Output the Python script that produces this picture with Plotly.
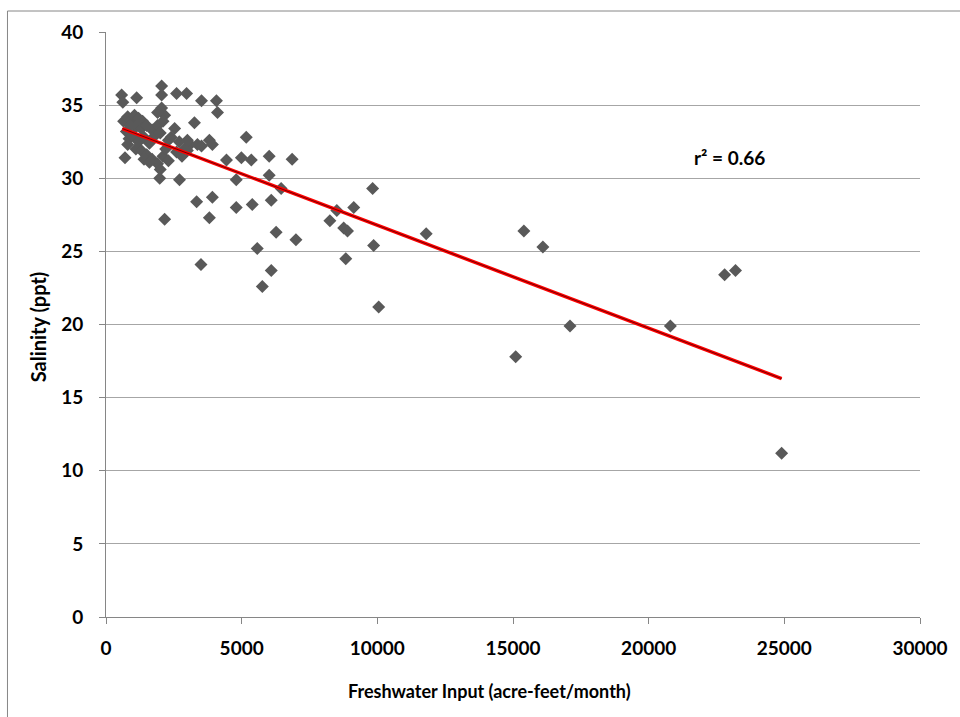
import plotly.graph_objects as go

# Freshwater input (acre-feet/month) and salinity (ppt)
fresh_x = [575, 1130, 620, 2050, 2050, 2600, 2970, 2050, 2160, 1900,
           650, 800, 950, 1050, 1200, 1350, 900, 1100, 1300, 1500, 1700, 1900,
           750, 850, 1000, 1200, 1400, 1600, 1800, 2000, 800, 1100, 1300, 1500,
           1700, 1900, 2100, 2300, 2000, 1400, 1600, 2200, 2400, 2530, 2700,
           2900, 3100, 2600, 2800, 3000, 2100, 2300, 700, 1980, 2710, 2160,
           3260, 3520, 4070, 4110, 5170, 3810, 3920, 3370, 3520, 3000, 4440,
           4990, 5355, 6015, 6860, 4800, 6015, 6455, 3340, 3920, 4800, 5390,
           6090, 3810, 6270, 7000, 5575, 6090, 5760, 3500,
           8250, 8507, 8760, 8900, 9130, 9826, 9863, 8837, 11800, 10050,
           15100, 15400, 16100, 17100, 20800, 22800, 23200, 24900]
salinity_y = [35.7, 35.5, 35.2, 36.3, 35.7, 35.8, 35.8, 34.8, 34.3, 34.5,
              33.9, 34.2, 34.0, 34.3, 34.1, 33.9, 33.6, 33.5, 33.4, 33.6, 33.3, 33.6,
              33.2, 32.7, 32.9, 32.5, 32.8, 32.4, 32.9, 33.1, 32.3, 32.0, 31.9, 31.6,
              31.3, 31.0, 31.5, 31.2, 30.6, 31.3, 31.1, 32.0, 32.8, 33.4, 32.5,
              32.0, 32.3, 31.8, 31.5, 31.9, 33.9, 32.6, 31.4, 30.0, 29.9, 27.2,
              33.8, 35.3, 35.3, 34.5, 32.8, 32.6, 32.3, 32.3, 32.2, 32.6, 31.25,
              31.4, 31.25, 31.5, 31.3, 29.9, 30.2, 29.3, 28.4, 28.7, 28.0, 28.2,
              28.5, 27.3, 26.3, 25.8, 25.2, 23.7, 22.6, 24.1,
              27.1, 27.8, 26.6, 26.4, 28.0, 29.3, 25.4, 24.5, 26.2, 21.2,
              17.8, 26.4, 25.3, 19.9, 19.9, 23.4, 23.7, 11.2]

# Linear trendline end points
trend_x = [600, 24900]
trend_y = [33.4, 16.3]

x_ticks = [0, 5000, 10000, 15000, 20000, 25000, 30000]
y_ticks = [0, 5, 10, 15, 20, 25, 30, 35, 40]

FONT = "Lato"
W, H = 960, 717
L, R, T, B = 106, 36, 32, 100
pw, ph = W - L - R, H - T - B

def px_to_paper_x(px):
    return (px - L) / pw

def px_to_paper_y(py):
    return (H - B - py) / ph

fig = go.Figure()
fig.add_trace(go.Scatter(
    x=fresh_x, y=salinity_y, mode="markers",
    marker=dict(symbol="diamond", size=10, color="#595959",
                line=dict(width=0)),
    showlegend=False, hoverinfo="x+y"))
fig.add_trace(go.Scatter(
    x=trend_x, y=trend_y, mode="lines",
    line=dict(color="#ff0000", width=3.5), showlegend=False))
fig.add_trace(go.Scatter(
    x=trend_x, y=trend_y, mode="lines",
    line=dict(color="#500000", width=0.8), showlegend=False))

tickfont = dict(family=FONT, size=19, color="black", weight="bold")

fig.update_layout(
    width=W, height=H,
    margin=dict(l=L, r=R, t=T, b=B),
    paper_bgcolor="white", plot_bgcolor="white",
    font=dict(family=FONT, color="black"),
    xaxis=dict(range=[0, 30000], tickvals=x_ticks,
               ticktext=[str(v) for v in x_ticks],
               showgrid=False, zeroline=False,
               showline=True, linecolor="#868686", linewidth=1,
               ticks="outside", ticklen=6, tickcolor="#868686",
               ticklabelstandoff=8,
               tickfont=tickfont),
    yaxis=dict(range=[0, 40], tickvals=y_ticks,
               ticktext=[str(v) for v in y_ticks],
               showgrid=True, gridcolor="#a6a6a6", gridwidth=1,
               zeroline=False,
               showline=True, linecolor="#868686", linewidth=1,
               ticks="outside", ticklen=6, tickcolor="#868686",
               ticklabelstandoff=12,
               tickfont=tickfont),
    annotations=[
        dict(text="<b>Freshwater Input (acre-feet/month)</b>", xref="paper", yref="paper",
             x=px_to_paper_x(491), y=px_to_paper_y(691), showarrow=False,
             xanchor="center", yanchor="middle",
             font=dict(family=FONT, size=18, color="black")),
        dict(text="<b>Salinity (ppt)</b>", xref="paper", yref="paper",
             x=px_to_paper_x(38), y=px_to_paper_y(327), showarrow=False,
             textangle=-90, xanchor="center", yanchor="middle",
             font=dict(family=FONT, size=20, color="black")),
        dict(text="<b>r² = 0.66</b>", xref="paper", yref="paper",
             x=px_to_paper_x(733), y=px_to_paper_y(157), showarrow=False,
             xanchor="center", yanchor="middle",
             font=dict(family=FONT, size=19, color="black")),
    ],
    shapes=[
        dict(type="rect", xref="paper", yref="paper",
             x0=px_to_paper_x(7), x1=px_to_paper_x(990),
             y0=px_to_paper_y(760), y1=px_to_paper_y(11),
             line=dict(color="#868686", width=1), fillcolor="rgba(0,0,0,0)",
             layer="below"),
    ],
)

fig.write_html("out.html", config={"displayModeBar": False},
               post_script="document.body.style.margin='0';document.body.style.overflow='hidden';")
